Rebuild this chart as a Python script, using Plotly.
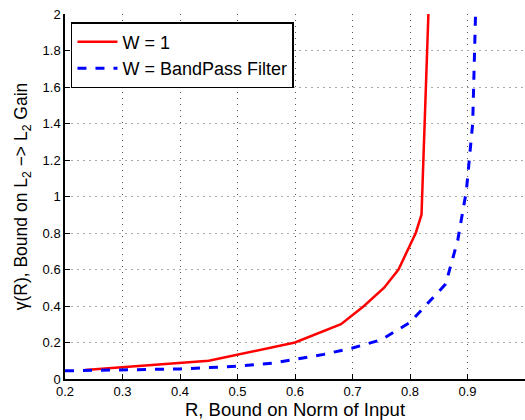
import plotly.graph_objects as go

# W = 1 curve
r_w1 = [0.235, 0.45, 0.60, 0.68, 0.72, 0.755, 0.78, 0.81, 0.82, 0.832]
g_w1 = [0.05, 0.10, 0.20, 0.30, 0.40, 0.50, 0.60, 0.80, 0.90, 2.00]

# W = BandPass Filter curve
r_bp = [0.20, 0.30, 0.40, 0.50, 0.56, 0.60, 0.65, 0.70, 0.75, 0.80, 0.835, 0.862, 0.883, 0.898, 0.909, 0.914]
g_bp = [0.045, 0.05, 0.055, 0.07, 0.087, 0.108, 0.135, 0.17, 0.215, 0.31, 0.43, 0.52, 0.76, 1.03, 1.40, 2.00]

x_ticks = [0.2, 0.3, 0.4, 0.5, 0.6, 0.7, 0.8, 0.9]
x_labels = ["0.2", "0.3", "0.4", "0.5", "0.6", "0.7", "0.8", "0.9"]
y_ticks = [0, 0.2, 0.4, 0.6, 0.8, 1.0, 1.2, 1.4, 1.6, 1.8, 2.0]
y_labels = ["0", "0.2", "0.4", "0.6", "0.8", "1", "1.2", "1.4", "1.6", "1.8", "2"]

fig = go.Figure()
fig.add_trace(go.Scatter(x=r_w1, y=g_w1, mode="lines", name="W = 1",
                         line=dict(color="#ff0000", width=2.5)))
fig.add_trace(go.Scatter(x=r_bp, y=g_bp, mode="lines", name="W = BandPass Filter",
                         line=dict(color="#0000ff", width=3, dash="dash")))

font_family = "Liberation Sans, Arial, sans-serif"
fig.update_layout(
    width=525, height=420,
    margin=dict(l=65, r=0, t=14, b=41),
    paper_bgcolor="white", plot_bgcolor="white",
    font=dict(family=font_family, color="black", size=13),
    showlegend=True,
    legend=dict(x=0.013, y=0.978, xanchor="left", yanchor="top",
                bgcolor="white", bordercolor="black", borderwidth=1.5,
                font=dict(size=18, family=font_family), tracegroupgap=0,
                itemwidth=40),
    xaxis=dict(range=[0.2, 1.0], tickvals=x_ticks, ticktext=x_labels,
               showline=True, linecolor="black", linewidth=1.5,
               ticks="inside", ticklen=5, tickcolor="black",
               showgrid=True, gridcolor="#555555", griddash="1px,5px", gridwidth=1,
               zeroline=False, tickfont=dict(size=13),
               title=dict(text="R, Bound on Norm of Input", font=dict(size=18.5), standoff=3)),
    yaxis=dict(range=[0, 2], tickvals=y_ticks, ticktext=y_labels,
               showline=True, linecolor="black", linewidth=1.5,
               ticks="inside", ticklen=5, tickcolor="black",
               showgrid=True, gridcolor="#aaaaaa", griddash="2px,4px", gridwidth=1,
               zeroline=False, tickfont=dict(size=13),
               title=dict(text="γ(R), Bound on L<sub>2</sub> −> L<sub>2</sub> Gain", font=dict(size=17.5), standoff=10)),
)

fig.write_html("out.html", config={"displayModeBar": False},
               post_script="document.body.style.margin='0';")
